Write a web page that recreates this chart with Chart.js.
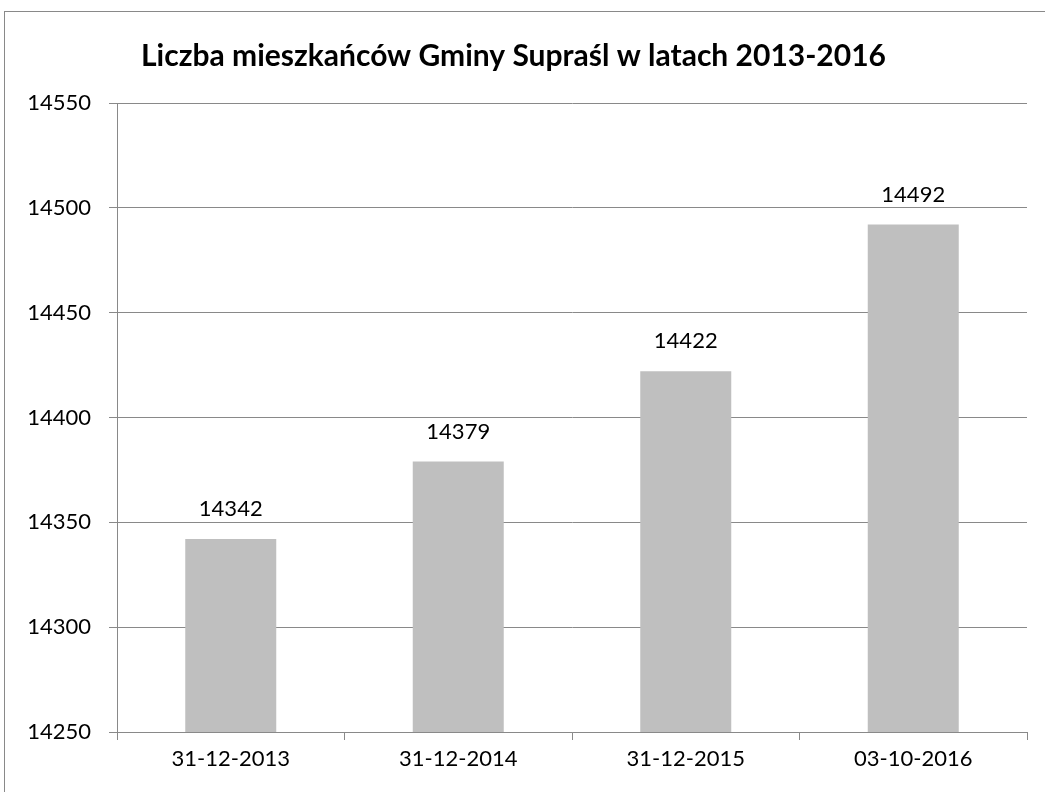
<!DOCTYPE html>
<html>
<head>
<meta charset="utf-8">
<script src="https://cdn.jsdelivr.net/npm/chart.js@4"></script>
<style>
    body { margin: 0; background: #fff; overflow: hidden; }
    #frame { position: absolute; left: 4px; top: 11px; width: 1100px; height: 900px; border: 1px solid #898989; }
    #wrap { position: absolute; left: 0; top: 0; width: 1045px; height: 792px; }
</style>
</head>
<body>
<div id="frame"></div>
<div id="wrap"><canvas id="chart"></canvas></div>
<script>
    // Chart data
    const categories = ['31-12-2013', '31-12-2014', '31-12-2015', '03-10-2016'];
    const residents = [14342, 14379, 14422, 14492];
    const yTicks = [14250, 14300, 14350, 14400, 14450, 14500, 14550];

    const fontFamily = 'Lato, "Open Sans", sans-serif';

    // Value labels above the bars
    const valueLabels = {
        id: 'valueLabels',
        afterDatasetsDraw(chart) {
            const ctx = chart.ctx;
            const meta = chart.getDatasetMeta(0);
            ctx.save();
            ctx.font = '22px ' + fontFamily;
            ctx.fillStyle = '#000';
            ctx.textAlign = 'center';
            ctx.textBaseline = 'middle';
            meta.data.forEach((bar, i) => {
                ctx.fillText(String(residents[i]), bar.x, bar.y - 30);
            });
            ctx.restore();
        }
    };

    const ctx = document.getElementById('chart').getContext('2d');
    new Chart(ctx, {
        type: 'bar',
        data: {
            labels: categories,
            datasets: [{
                data: residents,
                backgroundColor: '#bfbfbf',
                borderWidth: 0,
                barPercentage: 0.4,
                categoryPercentage: 1
            }]
        },
        options: {
            responsive: true,
            maintainAspectRatio: false,
            animation: false,
            layout: { padding: { left: 0, right: 18, top: 0, bottom: 0 } },
            scales: {
                x: {
                    offset: true,
                    grid: {
                        offset: true,
                        drawOnChartArea: false,
                        tickLength: 8,
                        color: '#898989'
                    },
                    border: { color: '#898989' },
                    ticks: {
                        color: '#000',
                        font: { family: fontFamily, size: 22 },
                        padding: 6
                    },
                    afterFit(scale) { scale.height = 60; }
                },
                y: {
                    min: 14250,
                    max: 14550,
                    afterBuildTicks(scale) {
                        scale.ticks = yTicks.map(v => ({ value: v }));
                    },
                    grid: {
                        color: '#898989',
                        tickLength: 8
                    },
                    border: { color: '#898989' },
                    ticks: {
                        color: '#000',
                        font: { family: fontFamily, size: 22 },
                        padding: 18,
                        callback: v => String(v)
                    },
                    afterFit(scale) { scale.width = 117; }
                }
            },
            plugins: {
                legend: { display: false },
                tooltip: { enabled: false },
                title: {
                    display: true,
                    text: 'Liczba mieszkańców Gminy Supraśl w latach 2013-2016',
                    color: '#000',
                    font: { family: fontFamily, size: 30, weight: 'bold' },
                    padding: { top: 38, bottom: 29 }
                }
            }
        },
        plugins: [valueLabels]
    });
</script>
</body>
</html>
